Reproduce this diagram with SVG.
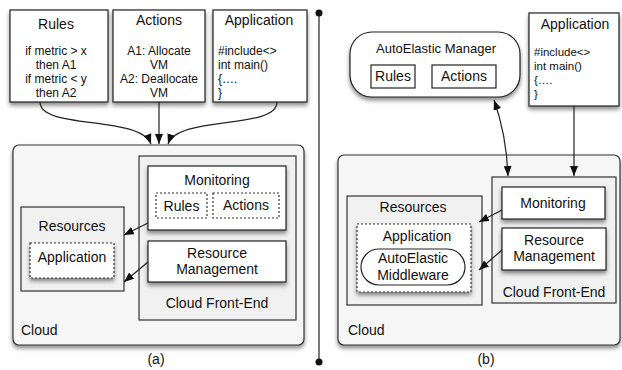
<svg xmlns="http://www.w3.org/2000/svg" width="622" height="370" viewBox="0 0 622 370">
  <style>
    text { font-family: "Liberation Sans", Arial, sans-serif; fill: #111; }
    .t14 { font-size: 14px; }
    .t13 { font-size: 13px; }
    .t12 { font-size: 12px; }
    .t11 { font-size: 11.5px; }
    .mid { text-anchor: middle; }
    .box { fill: #fff; stroke: #222; stroke-width: 1.2; }
    .cloud { fill: #f6f6f6; stroke: #333; stroke-width: 1.2; }
    .group { fill: #f1f1f1; stroke: #333; stroke-width: 1.2; }
    .dots { fill: #fff; stroke: #333; stroke-width: 1.2; stroke-dasharray: 2 2; }
    .edge { fill: none; stroke: #222; stroke-width: 1.2; }
    .sh { filter: url(#shadow); }
  </style>
  <defs>
    <filter id="shadow" x="-20%" y="-20%" width="140%" height="160%">
      <feDropShadow dx="0" dy="3" stdDeviation="2" flood-color="#000" flood-opacity="0.45"/>
    </filter>
    <marker id="arrow" markerUnits="userSpaceOnUse" markerWidth="10" markerHeight="8" viewBox="0 0 10 8" refX="10" refY="4" orient="auto-start-reverse">
      <path d="M0,0 L10,4 L0,8 z" fill="#111"/>
    </marker>
  </defs>

  <rect width="622" height="370" fill="#fff"/>

  <!-- (a) inputs -->
  <g id="a-rules">
    <rect class="box sh" x="10" y="10" width="98" height="92"/>
    <text class="t14 mid" x="56" y="29">Rules</text>
    <text class="t12 mid" x="56" y="55">if metric &gt; x</text>
    <text class="t12 mid" x="56" y="69">then A1</text>
    <text class="t12 mid" x="56" y="83">if metric &lt; y</text>
    <text class="t12 mid" x="56" y="97">then A2</text>
  </g>
  <g id="a-actions">
    <rect class="box sh" x="113" y="10" width="92" height="92"/>
    <text class="t14 mid" x="159" y="25">Actions</text>
    <text class="t12 mid" x="159" y="55">A1: Allocate</text>
    <text class="t12 mid" x="159" y="69">VM</text>
    <text class="t12 mid" x="159" y="83">A2: Deallocate</text>
    <text class="t12 mid" x="159" y="97">VM</text>
  </g>
  <g id="a-application">
    <rect class="box sh" x="213" y="10" width="94" height="92"/>
    <text class="t14 mid" x="259" y="25">Application</text>
    <text class="t12" x="218" y="55">#include&lt;&gt;</text>
    <text class="t12" x="218" y="69">int main()</text>
    <text class="t12" x="218" y="83">{….</text>
    <text class="t12" x="218" y="97">}</text>
  </g>

  <!-- (a) cloud -->
  <g id="a-cloud">
    <rect class="cloud sh" x="13" y="145" width="291" height="200" rx="6"/>
    <text class="t14" x="21" y="335">Cloud</text>
  </g>
  <g id="a-frontend">
    <rect class="group" x="139" y="156" width="157" height="164"/>
    <text class="t14 mid" x="217" y="308">Cloud Front-End</text>
  </g>
  <g id="a-monitoring">
    <rect class="box sh" x="148" y="166" width="138" height="64"/>
    <text class="t14 mid" x="217" y="185">Monitoring</text>
    <rect class="dots" x="156" y="193" width="51" height="25"/>
    <text class="t14 mid" x="181.5" y="211">Rules</text>
    <rect class="dots" x="213" y="193" width="66" height="25"/>
    <text class="t14 mid" x="246" y="210">Actions</text>
  </g>
  <g id="a-resmgmt">
    <rect class="box sh" x="148" y="241" width="138" height="41"/>
    <text class="t14 mid" x="217" y="258">Resource</text>
    <text class="t14 mid" x="217" y="274">Management</text>
  </g>
  <g id="a-resources">
    <rect class="group" x="21" y="207" width="103" height="84"/>
    <text class="t14 mid" x="72" y="231">Resources</text>
    <rect class="dots sh" x="30" y="243" width="84" height="35"/>
    <text class="t14 mid" x="72" y="262">Application</text>
  </g>
  <text id="a-caption" class="t14 mid" x="156" y="364">(a)</text>

  <!-- divider -->
  <g id="divider">
    <line x1="319" y1="13" x2="319" y2="362" stroke="#222" stroke-width="1.2"/>
    <circle cx="319" cy="13" r="3.5" fill="#111"/>
    <circle cx="319" cy="362" r="3.5" fill="#111"/>
  </g>

  <!-- (b) -->
  <g id="b-manager">
    <rect class="box sh" x="350" y="32" width="170" height="65" rx="22"/>
    <text class="t13 mid" x="436" y="53">AutoElastic Manager</text>
    <rect class="box" x="371" y="65" width="44" height="23"/>
    <text class="t14 mid" x="393" y="81">Rules</text>
    <rect class="box" x="432" y="65" width="64" height="23"/>
    <text class="t14 mid" x="464" y="81">Actions</text>
  </g>
  <g id="b-application">
    <rect class="box sh" x="529" y="13" width="90" height="93"/>
    <text class="t14 mid" x="575" y="29">Application</text>
    <text class="t11" x="534" y="56">#include&lt;&gt;</text>
    <text class="t11" x="534" y="70">int main()</text>
    <text class="t11" x="534" y="84">{….</text>
    <text class="t11" x="534" y="98">}</text>
  </g>
  <g id="b-cloud">
    <rect class="cloud sh" x="338" y="155" width="282" height="190" rx="6"/>
    <text class="t14" x="348" y="335">Cloud</text>
  </g>
  <g id="b-frontend">
    <rect class="group" x="492" y="177" width="124" height="126"/>
    <text class="t14 mid" x="554" y="297">Cloud Front-End</text>
  </g>
  <g id="b-monitoring">
    <rect class="box sh" x="502" y="187" width="103" height="32"/>
    <text class="t14 mid" x="553" y="208">Monitoring</text>
  </g>
  <g id="b-resmgmt">
    <rect class="box sh" x="502" y="228" width="104" height="42"/>
    <text class="t14 mid" x="554" y="245">Resource</text>
    <text class="t14 mid" x="554" y="261">Management</text>
  </g>
  <g id="b-resources">
    <rect class="group" x="347" y="196" width="135" height="109"/>
    <text class="t14 mid" x="413" y="212">Resources</text>
    <rect class="dots sh" x="357" y="224" width="114" height="68"/>
    <text class="t14 mid" x="417" y="241">Application</text>
    <rect class="box" x="361" y="249" width="104" height="36" rx="18"/>
    <text class="t14 mid" x="413" y="263">AutoElastic</text>
    <text class="t14 mid" x="413" y="280">Middleware</text>
  </g>
  <text id="b-caption" class="t14 mid" x="486" y="364">(b)</text>

  <!-- connectors -->
  <g id="connectors">
    <path class="edge" d="M40,102 C40,130 140,115 151,144" marker-end="url(#arrow)"/>
    <path class="edge" d="M159,102 L159,144" marker-end="url(#arrow)"/>
    <path class="edge" d="M277,102 C277,130 178,115 168,144" marker-end="url(#arrow)"/>
    <path class="edge" d="M148,223 L124,235" marker-end="url(#arrow)"/>
    <path class="edge" d="M148,262 L124,282" marker-end="url(#arrow)"/>
    <path class="edge" d="M494,100 C503,125 507,150 508,176" marker-start="url(#arrow)" marker-end="url(#arrow)"/>
    <path class="edge" d="M574,106 L574,176" marker-end="url(#arrow)"/>
    <path class="edge" d="M502,210 L479,222" marker-end="url(#arrow)"/>
    <path class="edge" d="M502,250 L479,270" marker-end="url(#arrow)"/>
  </g>
</svg>
